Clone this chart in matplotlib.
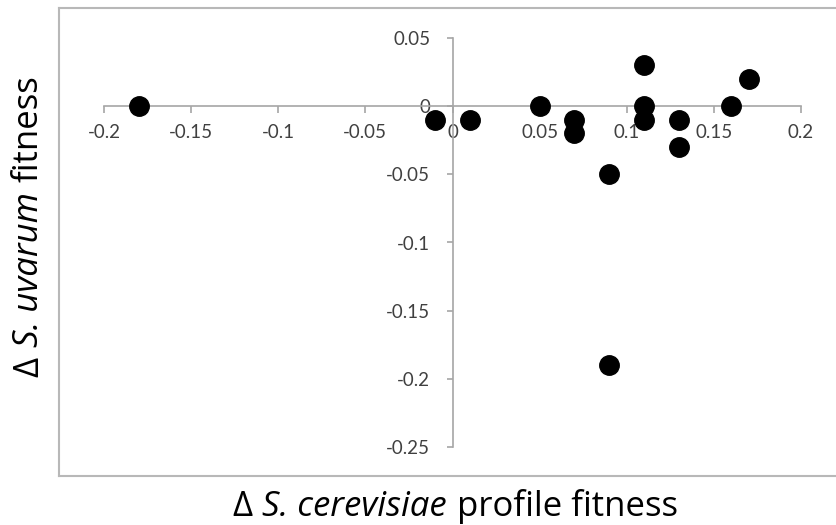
import matplotlib.pyplot as plt
from matplotlib.lines import Line2D

# fitness differences per strain
cerevisiae_fitness = [-0.18, -0.01, 0.01, 0.05, 0.07, 0.07, 0.09, 0.09,
                      0.11, 0.11, 0.11, 0.13, 0.13, 0.16, 0.17]
uvarum_fitness = [0.0, -0.01, -0.01, 0.0, -0.01, -0.02, -0.05, -0.19,
                  0.03, 0.0, -0.01, -0.01, -0.03, 0.0, 0.02]

x_ticks = [-0.2, -0.15, -0.1, -0.05, 0, 0.05, 0.1, 0.15, 0.2]
y_ticks = [-0.25, -0.2, -0.15, -0.1, -0.05, 0, 0.05]

x_label_parts = [('Δ', 'normal'), ('S. cerevisiae', 'italic'), ('profile fitness', 'normal')]
y_label_parts = [('Δ', 'normal'), ('S. uvarum', 'italic'), ('fitness', 'normal')]

plt.rcParams['font.family'] = ['Lato', 'DejaVu Sans']

W, H = 836, 525
fig = plt.figure(figsize=(W / 100, H / 100), dpi=100)

# chart area border (top, left, bottom)
border = '#b8b8b8'
for xs, ys in [([59, W], [8, 8]), ([59, 59], [8, 476]), ([59, W], [476, 476])]:
    fig.add_artist(Line2D([x / W for x in xs], [1 - y / H for y in ys],
                          color=border, lw=1.5))

ax = fig.add_axes([104 / W, 78 / H, (801 - 104) / W, (447 - 38) / H])
ax.set_xlim(-0.2, 0.2)
ax.set_ylim(-0.25, 0.05)

# axes cross at the origin
axis_col = '#a6a6a6'
for side in ['top', 'right']:
    ax.spines[side].set_visible(False)
for side in ['left', 'bottom']:
    ax.spines[side].set_position(('data', 0))
    ax.spines[side].set_color(axis_col)
    ax.spines[side].set_linewidth(1.2)

ax.set_xticks(x_ticks)
ax.set_yticks(y_ticks)
ax.set_xticklabels([f'{t:g}' for t in x_ticks])
ax.set_yticklabels([f'{t:g}' for t in y_ticks])
ax.tick_params(axis='x', direction='out', length=5, width=1.2, color=axis_col,
               labelsize=13.5, labelcolor='#404040', pad=8)
ax.tick_params(axis='y', direction='out', length=4, width=1.2, color=axis_col,
               labelsize=13.5, labelcolor='#404040', pad=12)

ax.plot(cerevisiae_fitness, uvarum_fitness, 'o', color='black',
        markersize=14, clip_on=False, zorder=5)

# axis titles built from pieces so the species names can be italic
label_font = ['Open Sans', 'DejaVu Sans']
fs = 25
gap = 10

prev = fig.text(232 / W, 1 - 516 / H, x_label_parts[0][0], ha='left', va='baseline',
                fontsize=fs, family=label_font, style=x_label_parts[0][1])
for txt, st in x_label_parts[1:]:
    prev = ax.annotate(txt, xy=(1, 0), xycoords=prev, xytext=(gap, 0),
                       textcoords='offset pixels', ha='left', va='bottom',
                       fontsize=fs, family=label_font, style=st,
                       annotation_clip=False)

prev = fig.text(29 / W, 1 - 377 / H, y_label_parts[0][0], ha='center',
                va='bottom', rotation=90, fontsize=fs, family=label_font,
                style=y_label_parts[0][1])
for txt, st in y_label_parts[1:]:
    prev = ax.annotate(txt, xy=(0.5, 1), xycoords=prev, xytext=(0, gap),
                       textcoords='offset pixels', ha='center', va='bottom',
                       rotation=90, fontsize=fs, family=label_font, style=st,
                       annotation_clip=False)

fig.savefig('out.png', dpi=100)
